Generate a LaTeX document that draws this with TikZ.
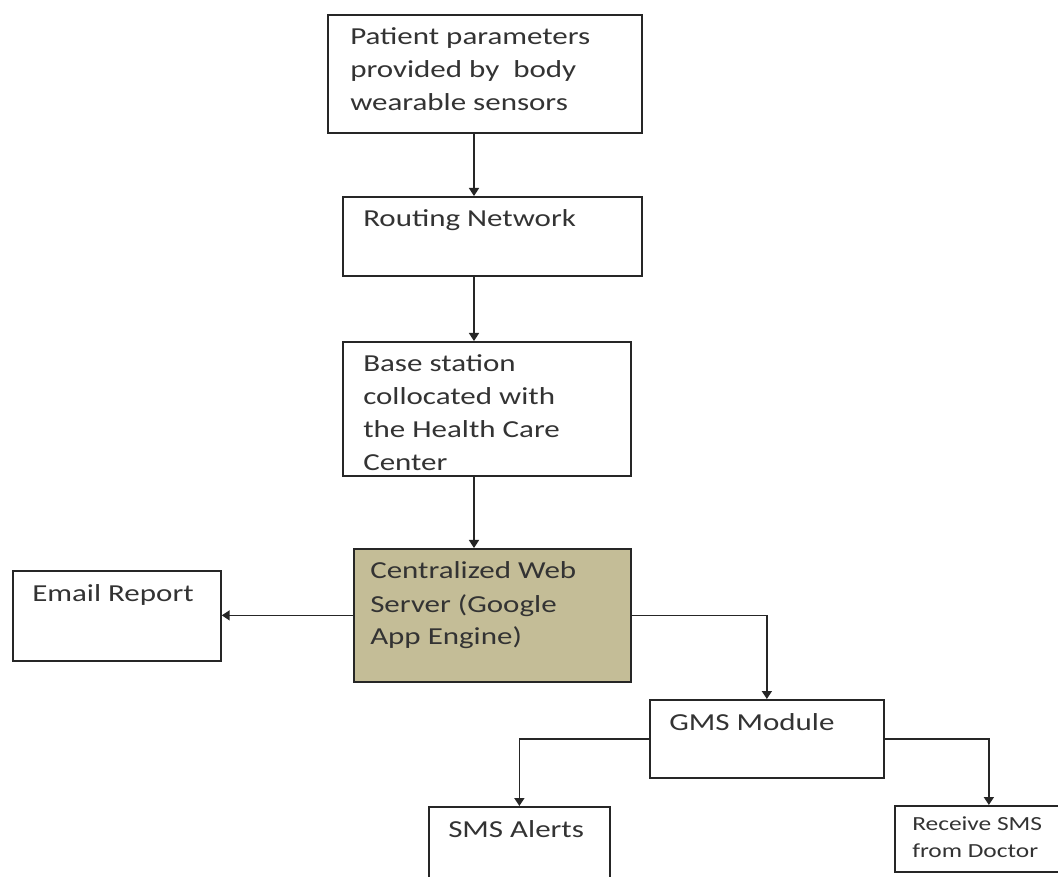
\documentclass[tikz,border=0pt]{standalone}
\usepackage{fontspec}
\setmainfont{Carlito}[FakeStretch=1.27]
\usetikzlibrary{arrows.meta,calc}
\definecolor{khaki}{HTML}{C4BD97}
\definecolor{ink}{HTML}{262626}
\definecolor{txtc}{HTML}{333333}
\begin{document}
\begin{tikzpicture}[x=0.75pt,y=-0.75pt,
  box/.style={draw=ink, line width=1.3pt, rectangle, inner sep=0pt, anchor=north west},
  txt/.style={text=txtc, inner sep=0pt, anchor=base west, font=\fontsize{18.3}{24.75}\selectfont},
  smalltxt/.style={txt, font=\fontsize{15}{20.25}\selectfont},
  arr/.style={draw=ink, line width=1.2pt, -{Triangle[length=6pt,width=7.5pt]}}]
\useasboundingbox (0,0) rectangle (1058,877);
\fill[white] (0,0) rectangle (1058,877);
\clip (0,0) rectangle (1058,877);

\node[box, minimum width=235.5pt, minimum height=88.5pt] (p1) at (327,14) {};
\node[box, minimum width=224.25pt, minimum height=59.25pt] (p2) at (342,196) {};
\node[box, minimum width=216pt, minimum height=100.5pt] (p3) at (342,341) {};
\node[box, fill=khaki, minimum width=207.75pt, minimum height=99.75pt] (p4) at (353,548) {};
\node[box, minimum width=156pt, minimum height=67.5pt] (email) at (12,570) {};
\node[box, minimum width=175.5pt, minimum height=58.5pt] (gms) at (649,699) {};
\node[box, minimum width=135.75pt, minimum height=75pt] (sms) at (428,806) {};
\node[box, minimum width=141pt, minimum height=49.5pt] (rec) at (894,805) {};

\node[txt] (t1) at ($(p1.north west)+(23,31)$) {\parbox[t]{300pt}{Patient parameters\\provided by\ \ body\\wearable sensors}};
\node[txt] (t2) at ($(p2.north west)+(21,31)$) {Routing Network};
\node[txt] (t3) at ($(p3.north west)+(21,31)$) {\parbox[t]{300pt}{Base station\\collocated with\\the Health Care\\Center}};
\node[txt] (t4) at ($(p4.north west)+(17,31)$) {\parbox[t]{300pt}{Centralized Web\\Server (Google\\App Engine)}};
\node[txt] (t5) at ($(email.north west)+(20,31)$) {Email Report};
\node[txt] (t6) at ($(gms.north west)+(20,31)$) {GMS Module};
\node[txt] (t7) at ($(sms.north west)+(20,31)$) {SMS Alerts};
\node[smalltxt] (t8) at ($(rec.north west)+(18,25)$) {\parbox[t]{200pt}{Receive SMS\\from Doctor}};

\coordinate (cx) at (474,0);
\draw[arr] (cx |- p1.south) -- (cx |- p2.north);
\draw[arr] (cx |- p2.south) -- (cx |- p3.north);
\draw[arr] (cx |- p3.south) -- (cx |- p4.north);
\draw[arr] (p4.west) -- (p4.west -| email.east);
\draw[arr] (p4.east) -| (gms.north);
\draw[arr] (gms.west) -| (sms.north);
\draw[arr] (gms.east) -| (rec.north);
\end{tikzpicture}
\end{document}
